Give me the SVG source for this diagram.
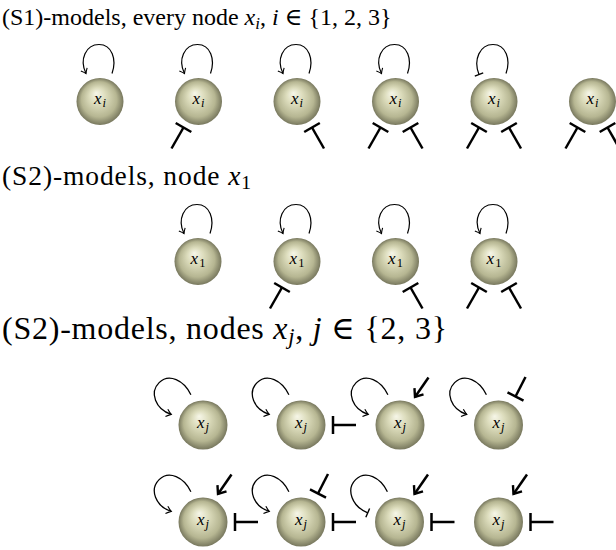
<svg xmlns="http://www.w3.org/2000/svg" width="616" height="550" viewBox="0 0 616 550">
<style>
.title{font-family:"Liberation Serif","DejaVu Serif",serif;font-size:24px;fill:#000}
.t2{font-size:27.5px}
.t3{font-size:32px}
.mi{font-style:italic}
.lab{font-family:"Liberation Serif","DejaVu Serif",serif;font-style:italic;font-size:17px;fill:#000;text-anchor:middle}
.sub{font-size:12.5px}
.ball{fill:url(#ball)}
.loop{fill:none;stroke:#000;stroke-width:1.2}
.thick{fill:none;stroke:#000;stroke-width:2.5}
</style>
<defs>
<radialGradient id="ball" cx="0.5" cy="0.5" r="0.5" fx="0.42" fy="0.32">
<stop offset="0" stop-color="#f6f6e8"/>
<stop offset="0.35" stop-color="#dcdcbc"/>
<stop offset="0.75" stop-color="#b6b692"/>
<stop offset="1" stop-color="#78785e"/>
</radialGradient>
<marker id="arr" markerUnits="userSpaceOnUse" viewBox="-10 -10 20 20" markerWidth="20" markerHeight="20" refX="0" refY="0" orient="auto">
<path d="M -4.5 -3.5 Q -1.5 -0.8 0 0 Q -1.5 0.8 -4.5 3.5" fill="none" stroke="#000" stroke-width="1.1"/>
</marker>
<marker id="tbar" markerUnits="userSpaceOnUse" viewBox="-10 -10 20 20" markerWidth="20" markerHeight="20" refX="0" refY="0" orient="auto">
<path d="M 0 -4.5 L 0 4.5" fill="none" stroke="#000" stroke-width="1.3"/>
</marker>
<marker id="arrT" markerUnits="userSpaceOnUse" viewBox="-12 -12 24 24" markerWidth="24" markerHeight="24" refX="0" refY="0" orient="auto">
<path d="M -7 -5.5 L 0 0 L -7 5.5" fill="none" stroke="#000" stroke-width="2.4"/>
</marker>
<marker id="barT" markerUnits="userSpaceOnUse" viewBox="-12 -12 24 24" markerWidth="24" markerHeight="24" refX="0" refY="0" orient="auto">
<path d="M 0 -9 L 0 9" fill="none" stroke="#000" stroke-width="2.5"/>
</marker>
</defs>

<g id="titles">
<text class="title" x="2" y="25">(S1)-models, every node <tspan class="mi">x</tspan><tspan class="mi" style="font-size:17px" dy="4">i</tspan><tspan dy="-4">, </tspan><tspan class="mi">i</tspan> ∈ {1, 2, 3}</text>
<text class="title t2" x="2" y="185" textLength="249">(S2)-models, node <tspan class="mi">x</tspan><tspan style="font-size:19.5px" dy="4">1</tspan></text>
<text class="title t3" x="2" y="339" textLength="445">(S2)-models, nodes <tspan class="mi">x</tspan><tspan class="mi" style="font-size:22.5px" dy="5">j</tspan><tspan dy="-5">, </tspan><tspan class="mi">j</tspan> ∈ {2, 3}</text>
</g>

<g id="connectors">
<!-- row 1 -->
<path class="loop" transform="translate(100,101.5)" d="M 12 -28 C 17 -42 12 -57 -1 -57 C -14 -57 -21 -42 -14 -28" marker-end="url(#arr)"/>
<path class="loop" transform="translate(198.5,101.5)" d="M 12 -28 C 17 -42 12 -57 -1 -57 C -14 -57 -21 -42 -14 -28" marker-end="url(#arr)"/>
<path class="thick" transform="translate(198.5,101.5)" d="M -27 47 L -15 26" marker-end="url(#barT)"/>
<path class="loop" transform="translate(297,101.5)" d="M 12 -28 C 17 -42 12 -57 -1 -57 C -14 -57 -21 -42 -14 -28" marker-end="url(#arr)"/>
<path class="thick" transform="translate(297,101.5)" d="M 27 47 L 15 26" marker-end="url(#barT)"/>
<path class="loop" transform="translate(395.5,101.5)" d="M 12 -28 C 17 -42 12 -57 -1 -57 C -14 -57 -21 -42 -14 -28" marker-end="url(#arr)"/>
<path class="thick" transform="translate(395.5,101.5)" d="M -27 47 L -15 26" marker-end="url(#barT)"/>
<path class="thick" transform="translate(395.5,101.5)" d="M 27 47 L 15 26" marker-end="url(#barT)"/>
<path class="loop" transform="translate(494,101.5)" d="M 12 -28 C 17 -42 12 -57 -1 -57 C -14 -57 -21 -42 -15 -27" marker-end="url(#tbar)"/>
<path class="thick" transform="translate(494,101.5)" d="M -27 47 L -15 26" marker-end="url(#barT)"/>
<path class="thick" transform="translate(494,101.5)" d="M 27 47 L 15 26" marker-end="url(#barT)"/>
<path class="thick" transform="translate(592.5,101.5)" d="M -27 47 L -15 26" marker-end="url(#barT)"/>
<path class="thick" transform="translate(592.5,101.5)" d="M 27 47 L 15 26" marker-end="url(#barT)"/>
<!-- row 2 -->
<path class="loop" transform="translate(198,261.5)" d="M 12 -28 C 17 -42 12 -57 -1 -57 C -14 -57 -21 -42 -14 -28" marker-end="url(#arr)"/>
<path class="loop" transform="translate(297,261.5)" d="M 12 -28 C 17 -42 12 -57 -1 -57 C -14 -57 -21 -42 -14 -28" marker-end="url(#arr)"/>
<path class="thick" transform="translate(297,261.5)" d="M -27 47 L -15 26" marker-end="url(#barT)"/>
<path class="loop" transform="translate(395.5,261.5)" d="M 12 -28 C 17 -42 12 -57 -1 -57 C -14 -57 -21 -42 -14 -28" marker-end="url(#arr)"/>
<path class="thick" transform="translate(395.5,261.5)" d="M 27 47 L 15 26" marker-end="url(#barT)"/>
<path class="loop" transform="translate(494,261.5)" d="M 12 -28 C 17 -42 12 -57 -1 -57 C -14 -57 -21 -42 -14 -28" marker-end="url(#arr)"/>
<path class="thick" transform="translate(494,261.5)" d="M -27 47 L -15 26" marker-end="url(#barT)"/>
<path class="thick" transform="translate(494,261.5)" d="M 27 47 L 15 26" marker-end="url(#barT)"/>
<!-- row 3a -->
<path class="loop" transform="translate(203,425) rotate(-45) scale(1.07)" d="M 12 -28 C 17 -42 12 -57 -1 -57 C -14 -57 -21 -42 -14 -28" marker-end="url(#arr)"/>
<path class="loop" transform="translate(301,425) rotate(-45) scale(1.07)" d="M 12 -28 C 17 -42 12 -57 -1 -57 C -14 -57 -21 -42 -14 -28" marker-end="url(#arr)"/>
<path class="thick" transform="translate(301,425)" d="M 55 0 L 32 0" marker-end="url(#barT)"/>
<path class="loop" transform="translate(400,425) rotate(-45) scale(1.07)" d="M 12 -28 C 17 -42 12 -57 -1 -57 C -14 -57 -21 -42 -14 -28" marker-end="url(#arr)"/>
<path class="thick" transform="translate(400,425)" d="M 28.5 -47.5 L 15 -28" marker-end="url(#arrT)"/>
<path class="loop" transform="translate(498.5,425) rotate(-45) scale(1.07)" d="M 12 -28 C 17 -42 12 -57 -1 -57 C -14 -57 -21 -42 -14 -28" marker-end="url(#arr)"/>
<path class="thick" transform="translate(498.5,425)" d="M 27 -48 L 17 -28.5" marker-end="url(#barT)"/>
<!-- row 3b -->
<path class="loop" transform="translate(203,522) rotate(-45) scale(1.07)" d="M 12 -28 C 17 -42 12 -57 -1 -57 C -14 -57 -21 -42 -14 -28" marker-end="url(#arr)"/>
<path class="thick" transform="translate(203,522)" d="M 28.5 -47.5 L 15 -28" marker-end="url(#arrT)"/>
<path class="thick" transform="translate(203,522)" d="M 55 0 L 32 0" marker-end="url(#barT)"/>
<path class="loop" transform="translate(301,522) rotate(-45) scale(1.07)" d="M 12 -28 C 17 -42 12 -57 -1 -57 C -14 -57 -21 -42 -14 -28" marker-end="url(#arr)"/>
<path class="thick" transform="translate(301,522)" d="M 27 -48 L 17 -28.5" marker-end="url(#barT)"/>
<path class="thick" transform="translate(301,522)" d="M 55 0 L 32 0" marker-end="url(#barT)"/>
<path class="loop" transform="translate(399.5,522) rotate(-45) scale(1.07)" d="M 12 -28 C 17 -42 12 -57 -1 -57 C -14 -57 -21 -42 -15 -27" marker-end="url(#tbar)"/>
<path class="thick" transform="translate(399.5,522)" d="M 28.5 -47.5 L 15 -28" marker-end="url(#arrT)"/>
<path class="thick" transform="translate(399.5,522)" d="M 55 0 L 32 0" marker-end="url(#barT)"/>
<path class="thick" transform="translate(498.5,522)" d="M 28.5 -47.5 L 15 -28" marker-end="url(#arrT)"/>
<path class="thick" transform="translate(498.5,522)" d="M 55 0 L 32 0" marker-end="url(#barT)"/>
</g>

<g id="s1-n1"><circle class="ball" cx="100" cy="101.5" r="23.5"/><text class="lab" x="100" y="104">x<tspan class="sub" dx="1" dy="3">i</tspan></text></g>
<g id="s1-n2"><circle class="ball" cx="198.5" cy="101.5" r="23.5"/><text class="lab" x="198.5" y="104">x<tspan class="sub" dx="1" dy="3">i</tspan></text></g>
<g id="s1-n3"><circle class="ball" cx="297" cy="101.5" r="23.5"/><text class="lab" x="297" y="104">x<tspan class="sub" dx="1" dy="3">i</tspan></text></g>
<g id="s1-n4"><circle class="ball" cx="395.5" cy="101.5" r="23.5"/><text class="lab" x="395.5" y="104">x<tspan class="sub" dx="1" dy="3">i</tspan></text></g>
<g id="s1-n5"><circle class="ball" cx="494" cy="101.5" r="23.5"/><text class="lab" x="494" y="104">x<tspan class="sub" dx="1" dy="3">i</tspan></text></g>
<g id="s1-n6"><circle class="ball" cx="592.5" cy="101.5" r="23.5"/><text class="lab" x="592.5" y="104">x<tspan class="sub" dx="1" dy="3">i</tspan></text></g>

<g id="s2-n1"><circle class="ball" cx="198" cy="261.5" r="23.5"/><text class="lab" x="198" y="264">x<tspan class="sub" font-style="normal" dx="1" dy="3">1</tspan></text></g>
<g id="s2-n2"><circle class="ball" cx="297" cy="261.5" r="23.5"/><text class="lab" x="297" y="264">x<tspan class="sub" font-style="normal" dx="1" dy="3">1</tspan></text></g>
<g id="s2-n3"><circle class="ball" cx="395.5" cy="261.5" r="23.5"/><text class="lab" x="395.5" y="264">x<tspan class="sub" font-style="normal" dx="1" dy="3">1</tspan></text></g>
<g id="s2-n4"><circle class="ball" cx="494" cy="261.5" r="23.5"/><text class="lab" x="494" y="264">x<tspan class="sub" font-style="normal" dx="1" dy="3">1</tspan></text></g>

<g id="s3-a1"><circle class="ball" cx="203" cy="425" r="24.5"/><text class="lab" x="203" y="427.5">x<tspan class="sub" dx="1" dy="3">j</tspan></text></g>
<g id="s3-a2"><circle class="ball" cx="301" cy="425" r="24.5"/><text class="lab" x="301" y="427.5">x<tspan class="sub" dx="1" dy="3">j</tspan></text></g>
<g id="s3-a3"><circle class="ball" cx="400" cy="425" r="24.5"/><text class="lab" x="400" y="427.5">x<tspan class="sub" dx="1" dy="3">j</tspan></text></g>
<g id="s3-a4"><circle class="ball" cx="498.5" cy="425" r="24.5"/><text class="lab" x="498.5" y="427.5">x<tspan class="sub" dx="1" dy="3">j</tspan></text></g>

<g id="s3-b1"><circle class="ball" cx="203" cy="522" r="24.5"/><text class="lab" x="203" y="524.5">x<tspan class="sub" dx="1" dy="3">j</tspan></text></g>
<g id="s3-b2"><circle class="ball" cx="301" cy="522" r="24.5"/><text class="lab" x="301" y="524.5">x<tspan class="sub" dx="1" dy="3">j</tspan></text></g>
<g id="s3-b3"><circle class="ball" cx="399.5" cy="522" r="24.5"/><text class="lab" x="399.5" y="524.5">x<tspan class="sub" dx="1" dy="3">j</tspan></text></g>
<g id="s3-b4"><circle class="ball" cx="498.5" cy="522" r="24.5"/><text class="lab" x="498.5" y="524.5">x<tspan class="sub" dx="1" dy="3">j</tspan></text></g>
</svg>
